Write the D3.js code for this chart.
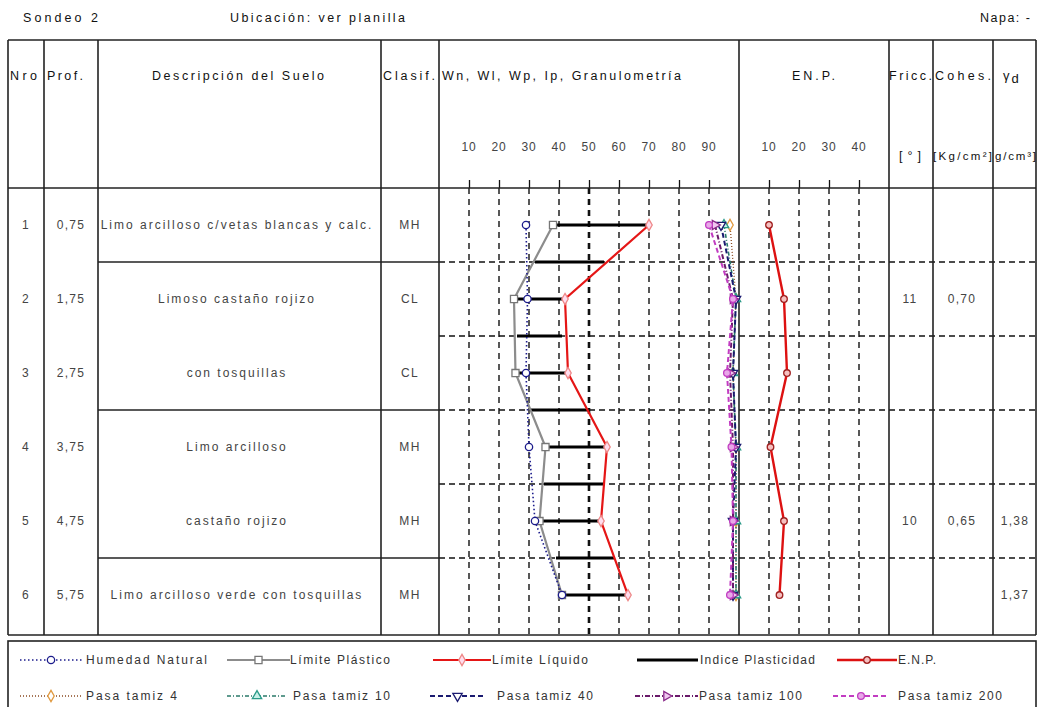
<!DOCTYPE html>
<html lang="es">
<head>
  <meta charset="UTF-8">
  <title>Sondeo 2</title>
  <script src="https://d3js.org/d3.v7.min.js"></script>
  <style>
    body { margin: 0; background: #fff; }
    text { font-family: "Liberation Sans", Arial, sans-serif; }
    .hdr { font-size: 12.5px; fill: #111; }
    .cell { font-size: 12px; fill: #444; letter-spacing: 1.3px; }
    .desc { letter-spacing: 2px; }
    .tick { font-size: 12px; fill: #444; letter-spacing: 0.8px; }
    .leg { font-size: 12px; fill: #333; }
  </style>
</head>
<body>
<svg id="chart" width="1037" height="707"></svg>
<script>
const nro = [1, 2, 3, 4, 5, 6];
const depth = [0.75, 1.75, 2.75, 3.75, 4.75, 5.75];
const profLabels = ["0,75", "1,75", "2,75", "3,75", "4,75", "5,75"];
const descripcion = [
  "Limo arcilloso c/vetas blancas y calc.",
  "Limoso castaño rojizo",
  "con tosquillas",
  "Limo arcilloso",
  "castaño rojizo",
  "Limo arcilloso verde con tosquillas"
];
const clasif = ["MH", "CL", "CL", "MH", "MH", "MH"];
const layerBreaks = [1.25, 3.25, 5.25];      // solid lines in description column
const gridDepths = [1.25, 2.25, 3.25, 4.25, 5.25];

const wn = [29, 29.5, 29, 30, 32, 41];        // Humedad Natural
const lp = [38, 25, 25.5, 35.5, 33.5, 41];    // Límite Plástico
const ll = [70, 42, 43, 56, 54, 63];          // Límite Líquido

// Indice Plasticidad bars (depth, from, to)
const ipDepth = [0.75, 1.25, 1.75, 2.25, 2.75, 3.25, 3.75, 4.25, 4.75, 5.25, 5.75];
const ipFrom  = [38, 32, 25.5, 26, 25.5, 30.5, 35.5, 35, 33.5, 39, 41];
const ipTo    = [70, 55, 42, 41, 43, 49.5, 56, 55, 54, 58.5, 63];

const t4   = [97, 99, 98, 99, 99, 99];
const t10  = [95, 99, 98, 99, 99, 99];
const t40  = [94, 99, 98, 99, 98, 98];
const t100 = [92, 98, 97, 98, 98, 98];
const t200 = [90, 98, 96, 97.5, 98, 97];

const enp = [10, 15, 16, 10.5, 15, 13.5];

const fricc = ["", "11", "", "", "10", ""];
const cohes = ["", "0,70", "", "", "0,65", ""];
const gammaD = ["", "", "", "", "1,38", "1,37"];

const wnTicks = [10, 20, 30, 40, 50, 60, 70, 80, 90];
const enpTicks = [10, 20, 30, 40];

// ---- layout ----
const svg = d3.select("#chart");
const colX = [8, 44, 98, 381, 439, 739, 889, 933, 993, 1036];
const tableTop = 40, headBottom = 188, tableBottom = 635;

const y = d3.scaleLinear().domain([0.25, 6.29]).range([headBottom, tableBottom]);
const xW = d3.scaleLinear().domain([0, 100]).range([439, 739]);
const xE = d3.scaleLinear().domain([0, 50]).range([739, 889]);

// text stretched to the width it has in the original sheet
function label(x, yy, str, w, anchor, cls) {
  const t = svg.append("text").attr("class", cls || "hdr").attr("x", x).attr("y", yy)
    .attr("text-anchor", anchor || "start").text(str);
  if (w) t.attr("textLength", w).attr("lengthAdjust", "spacing");
  return t;
}

// title line
label(23, 22, "Sondeo 2", 75);
label(230, 22, "Ubicación: ver planilla", 175);
label(980, 22, "Napa: -", 50);

// grid (behind everything)
const grid = svg.append("g");
grid.selectAll("line.h").data(gridDepths).join("line")
  .attr("x1", colX[4]).attr("x2", colX[9])
  .attr("y1", d => y(d)).attr("y2", d => y(d))
  .attr("stroke", "#111").attr("stroke-width", 1.5).attr("stroke-dasharray", "6,4");
grid.selectAll("line.vw").data(wnTicks).join("line")
  .attr("x1", d => xW(d)).attr("x2", d => xW(d))
  .attr("y1", headBottom).attr("y2", tableBottom)
  .attr("stroke", "#111").attr("stroke-width", d => d === 50 ? 2.6 : 1.4)
  .attr("stroke-dasharray", "6,5");
grid.selectAll("line.ve").data(enpTicks).join("line")
  .attr("x1", d => xE(d)).attr("x2", d => xE(d))
  .attr("y1", headBottom).attr("y2", tableBottom)
  .attr("stroke", "#111").attr("stroke-width", 1.4).attr("stroke-dasharray", "6,5");

// top axes: ticks and labels
[[xW, wnTicks], [xE, enpTicks]].forEach(([sc, ticks]) => {
  const ax = svg.append("g").attr("transform", `translate(0,${headBottom})`)
    .call(d3.axisTop(sc).tickValues(ticks).tickSize(8).tickFormat(""));
  ax.select(".domain").remove();
  ax.selectAll(".tick line").attr("stroke", "#111").attr("stroke-width", 1.3);
  svg.append("g").selectAll("text").data(ticks).join("text")
    .attr("class", "tick").attr("x", d => sc(d)).attr("y", 151)
    .attr("text-anchor", "middle").text(d => d);
});

// table frame
const frame = svg.append("g").attr("stroke", "#222").attr("stroke-width", 1.6);
colX.forEach(x => frame.append("line").attr("x1", x).attr("x2", x).attr("y1", tableTop).attr("y2", tableBottom));
[tableTop, headBottom, tableBottom].forEach(yy => frame.append("line").attr("x1", colX[0]).attr("x2", colX[9]).attr("y1", yy).attr("y2", yy));
frame.append("g").selectAll("line").data(layerBreaks).join("line")
  .attr("x1", colX[2]).attr("x2", colX[4])
  .attr("y1", d => y(d)).attr("y2", d => y(d));

// header labels
const hy = 80;
label(10, hy, "Nro", 27);
label(47, hy, "Prof.", 36);
label(152, hy, "Descripción del Suelo", 172);
label(383, hy, "Clasif.", 52);
label(442, hy, "Wn, Wl, Wp, Ip, Granulometría", 239);
label(792, hy, "EN.P.", 43);
label(889, hy, "Fricc.", 43);
label(935, hy, "Cohes.", 56);
const gd = svg.append("text").attr("class", "hdr").attr("x", 1003).attr("y", hy).style("font-size", "13px");
gd.append("tspan").text("γ");
gd.append("tspan").attr("dy", 3).attr("dx", 2).text("d");
label(899, 160, "[°]", 22);
label(933, 160, "[Kg/cm²]", 59).style("font-size", "11.5px");
label(995, 160, "g/cm³]", 41).style("font-size", "11.5px");

// row cells
const rows = svg.append("g");
const rowText = (arr, x, cls) => rows.append("g").selectAll("text").data(arr).join("text")
  .attr("class", cls).attr("x", x).attr("y", (d, i) => y(depth[i]) + 4)
  .attr("text-anchor", "middle").text(d => d);
rowText(nro, 26, "cell");
rowText(profLabels, 71, "cell");
rowText(descripcion, 237, "cell desc");
rowText(clasif, 410, "cell");
rowText(fricc, 910, "cell");
rowText(cohes, 962, "cell");
rowText(gammaD, 1015, "cell");

// ---- marker helper ----
const symbols = {
  circle: [d3.symbolCircle, 0], square: [d3.symbolSquare, 0], diamond: [d3.symbolDiamond, 0],
  tri: [d3.symbolTriangle, 0], triDown: [d3.symbolTriangle, 180], triRight: [d3.symbolTriangle, 90]
};
function marker(g, type, cx, cy, st) {
  const [sym, rot] = symbols[type];
  g.append("path").attr("d", d3.symbol(sym, st.size || 42)())
    .attr("transform", `translate(${cx},${cy}) rotate(${rot})`)
    .attr("fill", st.fill).attr("stroke", st.mk).attr("stroke-width", 1.3);
}

const styles = {
  wn:   { stroke: "#1c1c8c", width: 1.6, dash: "1.5,2.5", mk: "#1c1c8c", fill: "#fff", type: "circle" },
  lp:   { stroke: "#8c8c8c", width: 2.2, dash: null, mk: "#777", fill: "#fff", type: "square", size: 50 },
  ll:   { stroke: "#e51616", width: 2.2, dash: null, mk: "#e88", fill: "#fde", type: "diamond", size: 36 },
  ip:   { stroke: "#000", width: 3, dash: null },
  enp:  { stroke: "#dd1111", width: 2.4, dash: null, mk: "#a02020", fill: "#f6c0c0", type: "circle", size: 34 },
  t4:   { stroke: "#8a4a20", width: 1.3, dash: "1,2", mk: "#e09a40", fill: "#fff", type: "diamond", size: 36 },
  t10:  { stroke: "#2a7a6a", width: 1.6, dash: "4,2,1,2", mk: "#2a9a88", fill: "#c8f0e8", type: "tri", size: 38 },
  t40:  { stroke: "#1a1a70", width: 2, dash: "5,3", mk: "#1a1a70", fill: "#fff", type: "triDown", size: 38 },
  t100: { stroke: "#6a1a6a", width: 2, dash: "5,2,1,2", mk: "#8a2a8a", fill: "#f0c8f0", type: "triRight", size: 38 },
  t200: { stroke: "#c23cc2", width: 2, dash: "5,3", mk: "#c23cc2", fill: "#e8a8e8", type: "circle", size: 36 }
};

function series(values, xs, st) {
  const g = svg.append("g");
  const line = d3.line().x(d => xs(d[0])).y(d => y(d[1]));
  g.append("path").datum(values.map((v, i) => [v, depth[i]]))
    .attr("d", line).attr("fill", "none")
    .attr("stroke", st.stroke).attr("stroke-width", st.width)
    .attr("stroke-dasharray", st.dash);
  values.forEach((v, i) => marker(g, st.type, xs(v), y(depth[i]), st));
}

// Indice Plasticidad bars
svg.append("g").selectAll("line").data(ipDepth).join("line")
  .attr("x1", (d, i) => xW(ipFrom[i])).attr("x2", (d, i) => xW(ipTo[i]))
  .attr("y1", d => y(d)).attr("y2", d => y(d))
  .attr("stroke", styles.ip.stroke).attr("stroke-width", styles.ip.width);

series(lp, xW, styles.lp);
series(wn, xW, styles.wn);
series(ll, xW, styles.ll);
series(t4, xW, styles.t4);
series(t10, xW, styles.t10);
series(t40, xW, styles.t40);
series(t100, xW, styles.t100);
series(t200, xW, styles.t200);
series(enp, xE, styles.enp);

// ---- legend ----
svg.append("rect").attr("x", 8).attr("y", 641).attr("width", 1028).attr("height", 70)
  .attr("fill", "none").attr("stroke", "#222").attr("stroke-width", 1.6);

const legendItems = [
  { key: "wn", label: "Humedad Natural", x1: 20, x2: 82, tx: 86, tw: 121, row: 0 },
  { key: "lp", label: "Límite Plástico", x1: 227, x2: 290, tx: 290, tw: 100, row: 0 },
  { key: "ll", label: "Límite Líquido", x1: 433, x2: 491, tx: 492, tw: 96, row: 0 },
  { key: "ip", label: "Indice Plasticidad", x1: 637, x2: 698, tx: 700, tw: 115, row: 0 },
  { key: "enp", label: "E.N.P.", x1: 837, x2: 897, tx: 898, tw: 38, row: 0 },
  { key: "t4", label: "Pasa tamiz 4", x1: 20, x2: 82, tx: 86, tw: 91, row: 1 },
  { key: "t10", label: "Pasa tamiz 10", x1: 227, x2: 287, tx: 293, tw: 97, row: 1 },
  { key: "t40", label: "Pasa tamiz 40", x1: 430, x2: 485, tx: 497, tw: 96, row: 1 },
  { key: "t100", label: "Pasa tamiz 100", x1: 635, x2: 698, tx: 699, tw: 103, row: 1 },
  { key: "t200", label: "Pasa tamiz 200", x1: 833, x2: 889, tx: 898, tw: 104, row: 1 }
];
const lg = svg.append("g");
legendItems.forEach(it => {
  const st = styles[it.key];
  const ly = it.row === 0 ? 660 : 696;
  lg.append("line").attr("x1", it.x1).attr("x2", it.x2).attr("y1", ly).attr("y2", ly)
    .attr("stroke", st.stroke).attr("stroke-width", st.width).attr("stroke-dasharray", st.dash);
  if (st.type) marker(lg, st.type, (it.x1 + it.x2) / 2, ly, st);
  lg.append("text").attr("class", "leg").attr("x", it.tx).attr("y", ly + 4)
    .attr("textLength", it.tw).attr("lengthAdjust", "spacing").text(it.label);
});
</script>
</body>
</html>
